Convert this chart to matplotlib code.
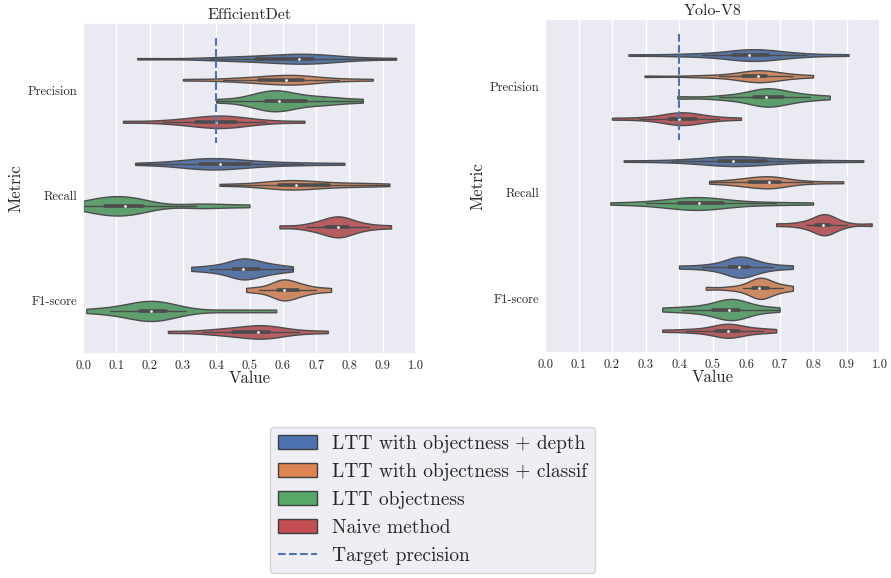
import numpy as np
import pandas as pd
import matplotlib
matplotlib.use("Agg")
import matplotlib.pyplot as plt
import seaborn as sns
from matplotlib.patches import Patch
from matplotlib.lines import Line2D
from matplotlib.ticker import FormatStrFormatter

sns.set_theme(style="darkgrid")
plt.rcParams["font.family"] = ["cmr10"]
plt.rcParams["mathtext.fontset"] = "cm"
plt.rcParams["axes.formatter.use_mathtext"] = True

metrics = ["Precision", "Recall", "F1-score"]
methods = ["LTT with objectness + depth", "LTT with objectness + classif",
           "LTT objectness", "Naive method"]
titles = ["EfficientDet", "Yolo-V8"]
target_precision = 0.4
x_ticks = [0.0, 0.1, 0.2, 0.3, 0.4, 0.5, 0.6, 0.7, 0.8, 0.9, 1.0]

# ---- EfficientDet samples ----
eff_prec_depth = [0.163, 0.38, 0.45, 0.50, 0.54, 0.58, 0.62, 0.65, 0.66, 0.67, 0.68, 0.70, 0.74, 0.80, 0.94]
eff_prec_classif = [0.30, 0.42, 0.48, 0.52, 0.54, 0.57, 0.60, 0.61, 0.63, 0.64, 0.65, 0.67, 0.71, 0.77, 0.87]
eff_prec_obj = [0.40, 0.49, 0.52, 0.54, 0.56, 0.57, 0.58, 0.59, 0.60, 0.62, 0.65, 0.69, 0.72, 0.76, 0.84]
eff_prec_naive = [0.12, 0.24, 0.30, 0.33, 0.35, 0.38, 0.40, 0.40, 0.42, 0.43, 0.45, 0.47, 0.50, 0.55, 0.665]

eff_rec_depth = [0.157, 0.26, 0.31, 0.34, 0.36, 0.37, 0.39, 0.41, 0.42, 0.45, 0.48, 0.52, 0.58, 0.66, 0.785]
eff_rec_classif = [0.41, 0.50, 0.55, 0.58, 0.60, 0.62, 0.63, 0.64, 0.66, 0.69, 0.72, 0.76, 0.81, 0.86, 0.92]
eff_rec_obj = [0.0, 0.03, 0.05, 0.06, 0.07, 0.10, 0.12, 0.125, 0.13, 0.15, 0.17, 0.19, 0.34, 0.38, 0.50]
eff_rec_naive = [0.59, 0.67, 0.70, 0.72, 0.74, 0.75, 0.76, 0.765, 0.77, 0.78, 0.79, 0.80, 0.83, 0.86, 0.925]

eff_f1_depth = [0.325, 0.38, 0.41, 0.44, 0.46, 0.47, 0.48, 0.48, 0.49, 0.51, 0.52, 0.54, 0.56, 0.59, 0.63]
eff_f1_classif = [0.49, 0.53, 0.56, 0.58, 0.59, 0.60, 0.60, 0.605, 0.61, 0.63, 0.64, 0.65, 0.67, 0.70, 0.745]
eff_f1_obj = [0.01, 0.08, 0.12, 0.16, 0.18, 0.19, 0.20, 0.205, 0.21, 0.23, 0.24, 0.26, 0.31, 0.45, 0.58]
eff_f1_naive = [0.255, 0.36, 0.41, 0.44, 0.46, 0.49, 0.51, 0.525, 0.54, 0.55, 0.555, 0.565, 0.60, 0.65, 0.735]

# ---- Yolo-V8 samples ----
yolo_prec_depth = [0.249, 0.40, 0.47, 0.54, 0.58, 0.60, 0.61, 0.61, 0.63, 0.64, 0.65, 0.68, 0.72, 0.78, 0.906]
yolo_prec_classif = [0.297, 0.45, 0.52, 0.57, 0.61, 0.62, 0.63, 0.635, 0.64, 0.65, 0.655, 0.665, 0.70, 0.74, 0.80]
yolo_prec_obj = [0.395, 0.52, 0.57, 0.61, 0.64, 0.65, 0.66, 0.66, 0.67, 0.68, 0.70, 0.72, 0.75, 0.79, 0.85]
yolo_prec_naive = [0.20, 0.28, 0.33, 0.36, 0.38, 0.39, 0.40, 0.40, 0.42, 0.43, 0.44, 0.46, 0.48, 0.52, 0.585]

yolo_rec_depth = [0.235, 0.38, 0.45, 0.50, 0.54, 0.55, 0.56, 0.56, 0.58, 0.61, 0.64, 0.68, 0.73, 0.82, 0.95]
yolo_rec_classif = [0.49, 0.54, 0.58, 0.60, 0.62, 0.63, 0.65, 0.67, 0.67, 0.68, 0.69, 0.71, 0.74, 0.80, 0.89]
yolo_rec_obj = [0.195, 0.30, 0.35, 0.39, 0.41, 0.43, 0.45, 0.46, 0.47, 0.49, 0.51, 0.55, 0.61, 0.69, 0.80]
yolo_rec_naive = [0.69, 0.75, 0.78, 0.80, 0.82, 0.825, 0.83, 0.83, 0.835, 0.84, 0.845, 0.855, 0.87, 0.90, 0.975]

yolo_f1_depth = [0.40, 0.47, 0.51, 0.54, 0.56, 0.57, 0.58, 0.58, 0.59, 0.60, 0.60, 0.62, 0.65, 0.68, 0.74]
yolo_f1_classif = [0.48, 0.55, 0.59, 0.61, 0.63, 0.635, 0.64, 0.64, 0.645, 0.65, 0.66, 0.67, 0.69, 0.71, 0.74]
yolo_f1_obj = [0.35, 0.41, 0.45, 0.49, 0.51, 0.53, 0.54, 0.55, 0.56, 0.57, 0.575, 0.585, 0.61, 0.65, 0.70]
yolo_f1_naive = [0.35, 0.42, 0.46, 0.50, 0.52, 0.53, 0.54, 0.545, 0.55, 0.56, 0.57, 0.59, 0.62, 0.65, 0.69]

eff_samples = [
    [eff_prec_depth, eff_prec_classif, eff_prec_obj, eff_prec_naive],
    [eff_rec_depth, eff_rec_classif, eff_rec_obj, eff_rec_naive],
    [eff_f1_depth, eff_f1_classif, eff_f1_obj, eff_f1_naive],
]
yolo_samples = [
    [yolo_prec_depth, yolo_prec_classif, yolo_prec_obj, yolo_prec_naive],
    [yolo_rec_depth, yolo_rec_classif, yolo_rec_obj, yolo_rec_naive],
    [yolo_f1_depth, yolo_f1_classif, yolo_f1_obj, yolo_f1_naive],
]


def to_frame(samples):
    rows = []
    for m, per_metric in zip(metrics, samples):
        for meth, vals in zip(methods, per_metric):
            for v in vals:
                rows.append((m, meth, v))
    return pd.DataFrame(rows, columns=["Metric", "Method", "Value"])


palette = sns.color_palette("deep", 4)

W, H = 891, 578
fig = plt.figure(figsize=(W / 100, H / 100), dpi=100)
ax_l = fig.add_axes([83 / W, 1 - 354 / H, 333 / W, 331 / H])
ax_r = fig.add_axes([545 / W, 1 - 353 / H, 335 / W, 334 / H])

for ax, title, samples in zip([ax_l, ax_r], titles, [eff_samples, yolo_samples]):
    df = to_frame(samples)
    sns.violinplot(data=df, x="Value", y="Metric", hue="Method", order=metrics,
                   hue_order=methods, orient="h", cut=0, inner="box",
                   bw_adjust=0.75, palette=palette, linewidth=1.0,
                   inner_kws=dict(box_width=2.6, whis_width=1.0, marker="o"),
                   legend=False, ax=ax)
    for ln in ax.lines:
        if ln.get_marker() == "o":
            ln.set_markersize(1.6)
            ln.set_markeredgewidth(0.3)
    ax.vlines(target_precision, -0.5, 0.5, colors=palette[0], linestyles="--",
              linewidth=1.5)
    ax.set_xlim(0, 1)
    ax.set_ylim(2.51, -0.64)
    ax.set_xticks(x_ticks)
    ax.xaxis.set_major_formatter(FormatStrFormatter("%.1f"))
    ax.tick_params(axis="both", labelsize=9, pad=4, length=0)
    ax.set_title(title, fontsize=11.5, pad=3)
    ax.set_xlabel("Value", fontsize=12, labelpad=-1)
    ax.set_ylabel("Metric", fontsize=12, labelpad=3)
    ax.yaxis.grid(False)

handles = [Patch(facecolor=palette[i], edgecolor="#3f3f3f", linewidth=1.0,
                 label=methods[i]) for i in range(4)]
handles.append(Line2D([0], [0], color=palette[0], linestyle="--", linewidth=1.5,
                      label="Target precision"))
fig.legend(handles=handles, loc="upper center", bbox_to_anchor=(432.5 / W, 1 - 427 / H),
           fontsize=14, labelspacing=0.52, frameon=True, borderaxespad=0)

fig.savefig("out.png", dpi=100)
